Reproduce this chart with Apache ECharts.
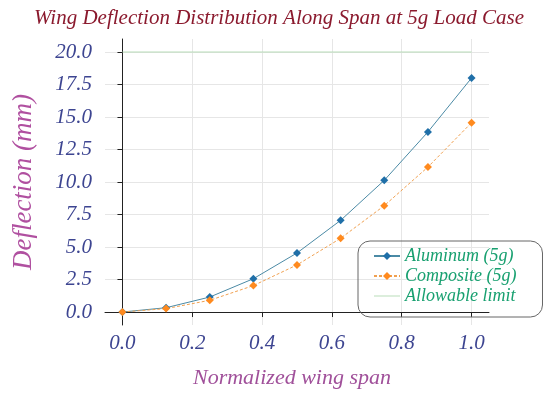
<!DOCTYPE html>
<html><head><meta charset="utf-8">
<script src="https://cdn.jsdelivr.net/npm/echarts@6/dist/echarts.min.js"></script>
<style>html,body{margin:0;padding:0;background:#fff}#c{width:550px;height:394px}</style>
</head><body><div id="c"></div>
<script>
const spans = [0, 0.125, 0.25, 0.375, 0.5, 0.625, 0.75, 0.875, 1.0];
const aluminum = [0.0, 0.33, 1.15, 2.56, 4.54, 7.05, 10.13, 13.85, 18.0];
const composite = [0.0, 0.26, 0.9, 2.03, 3.62, 5.67, 8.18, 11.15, 14.56];
const limitX = [0, 1.0];
const limitY = [20, 20];
const xTicks = [0, 0.2, 0.4, 0.6, 0.8, 1.0];
const yTicks = [0, 2.5, 5, 7.5, 10, 12.5, 15, 17.5, 20];

const serif = '"Liberation Serif", "DejaVu Serif", serif';
const chart = echarts.init(document.getElementById('c'));
chart.setOption({
  animation: false,
  title: {
    text: 'Wing Deflection Distribution Along Span at 5g Load Case',
    left: 274, top: 3, textAlign: 'center',
    textStyle: {fontFamily: serif, fontStyle: 'italic', fontWeight: 'normal', fontSize: 21, color: '#8b1a2e'}
  },
  grid: {left: 105, right: 61, top: 39, bottom: 69},
  xAxis: {
    type: 'value', min: -0.05, max: 1.05,
    name: 'Normalized wing span', nameLocation: 'middle', nameGap: 42,
    nameTextStyle: {fontFamily: serif, fontStyle: 'italic', fontSize: 22, color: '#a0509a', padding: [0, 10, 0, 0]},
    axisLine: {show: true, lineStyle: {color: '#222', width: 1}},
    axisTick: {show: true, length: 5, lineStyle: {color: '#222'}, customValues: xTicks},
    axisLabel: {customValues: xTicks, formatter: v => v.toFixed(1), margin: 8,
      fontFamily: serif, fontStyle: 'italic', fontSize: 21, color: '#3d4591'},
    splitLine: {show: true, lineStyle: {color: '#e6e6e6', width: 1}}
  },
  yAxis: {
    type: 'value', min: -1, max: 21,
    name: 'Deflection (mm)', nameLocation: 'middle', nameGap: 68,
    nameTextStyle: {fontFamily: serif, fontStyle: 'italic', fontSize: 27, color: '#b050a0'},
    axisLine: {show: true, lineStyle: {color: '#222', width: 1}},
    axisTick: {show: true, length: 5, lineStyle: {color: '#222'}, customValues: yTicks},
    axisLabel: {customValues: yTicks, formatter: v => v.toFixed(1), margin: 13,
      fontFamily: serif, fontStyle: 'italic', fontSize: 21, color: '#3d4591'},
    splitLine: {show: true, lineStyle: {color: '#e6e6e6', width: 1}}
  },
  legend: {
    left: 358, top: 241, orient: 'vertical',
    padding: [6, 26, 12, 15], itemGap: 2, itemWidth: 26, itemHeight: 10,
    borderColor: '#666', borderWidth: 1, borderRadius: 12,
    textStyle: {fontFamily: serif, fontStyle: 'italic', fontSize: 18, color: '#18a070'},
    data: ['Aluminum (5g)', 'Composite (5g)',
      {name: 'Allowable limit', icon: 'path://M0,0L26,0L26,1L0,1Z'}]
  },
  series: [
    {
      name: 'Aluminum (5g)', type: 'line',
      data: spans.map((x, i) => [x, aluminum[i]]),
      symbol: 'diamond', symbolSize: 8,
      itemStyle: {color: '#1f6fa8'},
      lineStyle: {color: '#4b8aa5', width: 1}
    },
    {
      name: 'Composite (5g)', type: 'line',
      data: spans.map((x, i) => [x, composite[i]]),
      symbol: 'diamond', symbolSize: 8,
      itemStyle: {color: '#ff8a1e'},
      lineStyle: {color: '#f0a050', width: 1, type: [3, 2]}
    },
    {
      name: 'Allowable limit', type: 'line',
      data: limitX.map((x, i) => [x, limitY[i]]),
      symbol: 'none',
      itemStyle: {color: '#b8dcb8'},
      lineStyle: {color: '#b8dcb8', width: 1}
    }
  ]
});
</script></body></html>
